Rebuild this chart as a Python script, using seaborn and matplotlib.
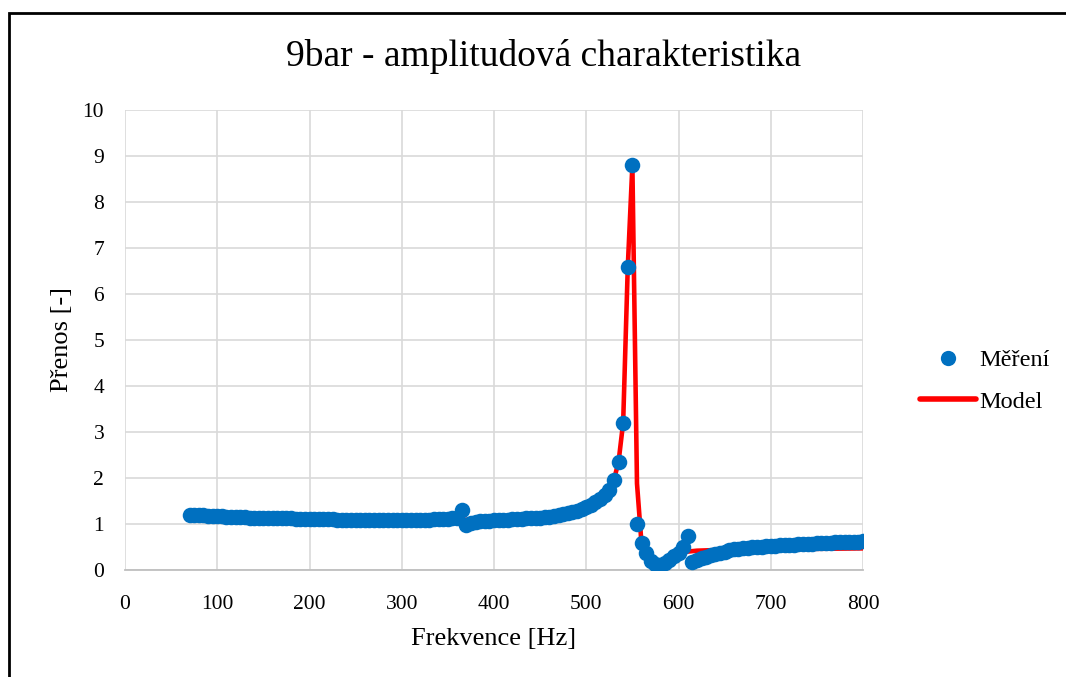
import matplotlib
matplotlib.use("Agg")
import matplotlib.pyplot as plt
from matplotlib.patches import Rectangle
from matplotlib.lines import Line2D
import seaborn as sns
import pandas as pd

# ---- data ----
freq_measured = list(range(70, 805, 5))
transfer_measured = [
    1.19, 1.19, 1.19, 1.19, 1.18, 1.18, 1.17, 1.17, 1.16, 1.16,   # 70-115
    1.15, 1.15, 1.15, 1.14, 1.14, 1.14, 1.13, 1.13, 1.13, 1.12,   # 120-165
    1.12, 1.12, 1.12, 1.11, 1.11, 1.11, 1.11, 1.10, 1.10, 1.10,   # 170-215
    1.10, 1.10, 1.09, 1.09, 1.09, 1.09, 1.09, 1.08, 1.08, 1.08,   # 220-265
    1.08, 1.08, 1.08, 1.08, 1.08, 1.08, 1.08, 1.08, 1.08, 1.09,   # 270-315
    1.09, 1.09, 1.09, 1.10, 1.10, 1.10, 1.11, 1.12, 1.14, 1.30,   # 320-365
    0.97, 1.03, 1.05, 1.06, 1.07, 1.07, 1.08, 1.08, 1.09, 1.09,   # 370-415
    1.10, 1.10, 1.11, 1.12, 1.12, 1.13, 1.14, 1.15, 1.16, 1.17,   # 420-465
    1.19, 1.21, 1.23, 1.26, 1.29, 1.32, 1.36, 1.41, 1.47, 1.55,   # 470-515
    1.63, 1.74, 1.96, 2.35, 3.20, 6.58, 8.80, 1.00, 0.58, 0.36,   # 520-565
    0.20, 0.12, 0.10, 0.15, 0.22, 0.30, 0.38, 0.50, 0.73, 0.18,   # 570-615
    0.22, 0.26, 0.29, 0.32, 0.35, 0.38, 0.40, 0.43, 0.45, 0.46,   # 620-665
    0.47, 0.48, 0.49, 0.50, 0.51, 0.52, 0.53, 0.53, 0.54, 0.54,   # 670-715
    0.55, 0.55, 0.56, 0.56, 0.57, 0.57, 0.58, 0.58, 0.59, 0.59,   # 720-765
    0.60, 0.60, 0.60, 0.61, 0.61, 0.61, 0.62,                     # 770-800
]

freq_model = [70, 100, 150, 200, 250, 300, 350, 400, 450, 480, 500, 510, 520,
              525, 530, 535, 540, 545, 550, 555, 560, 565, 570, 575, 580, 585,
              590, 595, 600, 605, 610, 620, 650, 700, 750, 800]
transfer_model = [1.18, 1.17, 1.13, 1.11, 1.09, 1.08, 1.10, 1.08, 1.14, 1.23,
                  1.36, 1.47, 1.63, 1.74, 1.96, 2.35, 3.20, 6.58, 8.80, 1.88,
                  0.55, 0.30, 0.12, 0.05, 0.08, 0.14, 0.20, 0.27, 0.33, 0.37,
                  0.40, 0.42, 0.44, 0.45, 0.46, 0.47]

title = "9bar - amplitudová charakteristika"
x_label = "Frekvence [Hz]"
y_label = "Přenos [-]"
label_measured = "Měření"
label_model = "Model"
x_ticks = [0, 100, 200, 300, 400, 500, 600, 700, 800]
y_ticks = [0, 1, 2, 3, 4, 5, 6, 7, 8, 9, 10]

BLUE = "#0070C0"
RED = "#FF0000"
GRID = "#D9D9D9"

df_meas = pd.DataFrame({"f": freq_measured, "t": transfer_measured})
df_model = pd.DataFrame({"f": freq_model, "t": transfer_model})

sns.set_style("white")
plt.rcParams["font.family"] = ["Liberation Serif", "DejaVu Serif"]
plt.rcParams["text.color"] = "black"
plt.rcParams["axes.labelcolor"] = "black"

fig = plt.figure(figsize=(10.66, 6.77), dpi=100)
ax = fig.add_axes([125 / 1066, 1 - 570 / 677, (863 - 125) / 1066, (570 - 110) / 677])

sns.lineplot(data=df_model, x="f", y="t", ax=ax, color=RED, linewidth=3.3,
             sort=False, estimator=None, zorder=2, legend=False)
sns.scatterplot(data=df_meas, x="f", y="t", ax=ax, color=BLUE, s=125,
                linewidth=0, zorder=3, legend=False)

ax.set_xlim(0, 800)
ax.set_ylim(0, 10)
ax.set_xticks(x_ticks)
ax.set_yticks(y_ticks)
ax.grid(True, color=GRID, linewidth=1.2)
ax.set_axisbelow(True)
for side in ["top", "right", "left"]:
    ax.spines[side].set_visible(False)
ax.spines["bottom"].set_color("#BFBFBF")
ax.spines["bottom"].set_linewidth(1.3)
ax.tick_params(axis="both", length=0, labelsize=15.5, labelcolor="black")
ax.tick_params(axis="y", pad=15)
ax.tick_params(axis="x", pad=18)
ax.set_xlabel(x_label, fontsize=19, labelpad=10, color="black")
ax.set_ylabel(y_label, fontsize=19, labelpad=7, color="black")

fig.text(0.51, 1 - 57 / 677, title, fontsize=27, ha="center", va="center",
         color="black")

handles = [
    Line2D([], [], linestyle="none", marker="o", markersize=11,
           markerfacecolor=BLUE, markeredgewidth=0),
    Line2D([], [], color=RED, linewidth=4),
]
fig.legend(handles, [label_measured, label_model], loc="center left",
           bbox_to_anchor=(920 / 1066, 1 - 381 / 677), frameon=False,
           fontsize=17.5, handlelength=2.3, handletextpad=0.15, labelspacing=0.8,
           borderpad=0, borderaxespad=0)

fig.add_artist(Rectangle((8.5 / 1066, -0.2), 1.2, 1.2 + (1 - 13 / 677) - 1.0,
                         transform=fig.transFigure, fill=False,
                         edgecolor="black", linewidth=2, clip_on=False))

fig.savefig("out.png", dpi=100)
